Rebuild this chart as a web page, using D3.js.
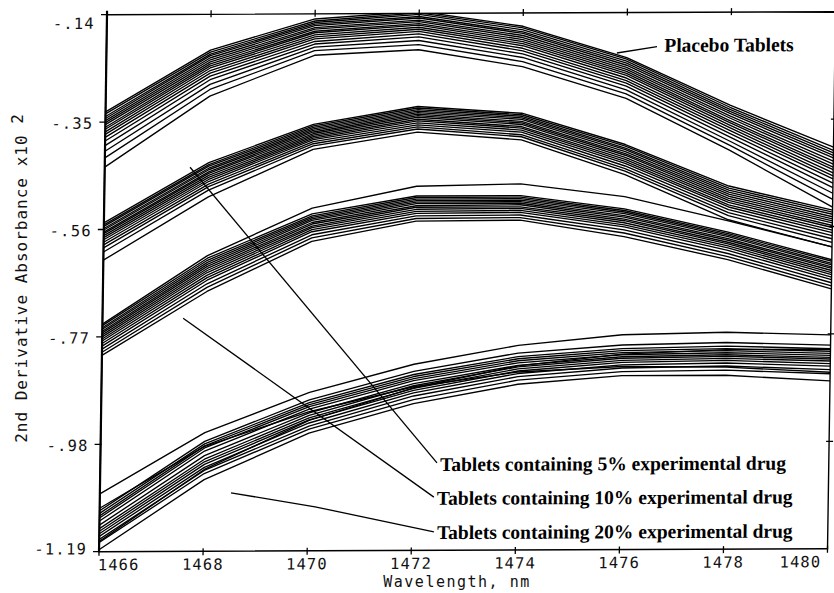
<!DOCTYPE html>
<html lang="en">
<head>
<meta charset="utf-8">
<title>2nd derivative spectra</title>
<script src="https://d3js.org/d3.v7.min.js"></script>
<style>
  body { margin: 0; background: #fff; }
  svg { display: block; background: #fff; }
  .mono { font-family: "DejaVu Sans Mono", monospace; fill: #111; }
  .note { font-family: "Liberation Serif", serif; font-weight: bold; font-size: 19.5px; fill: #000; }
</style>
</head>
<body>
<svg id="chart" width="834" height="593"></svg>
<script>
// wavelengths where each spectrum was sampled
const wavelengths = [1466, 1468, 1470, 1472, 1474, 1476, 1478, 1480];
const yTicks = [-0.14, -0.35, -0.56, -0.77, -0.98, -1.19];
const yTickLabels = ["-.14", "-.35", "-.56", "-.77", "-.98", "-1.19"];

// spectra, one row per tablet
const placebo = [
  [-0.330, -0.210, -0.150, -0.136, -0.166, -0.228, -0.322, -0.405],
  [-0.334, -0.214, -0.154, -0.139, -0.169, -0.231, -0.326, -0.411],
  [-0.339, -0.218, -0.157, -0.142, -0.173, -0.235, -0.330, -0.416],
  [-0.343, -0.221, -0.160, -0.146, -0.177, -0.239, -0.334, -0.421],
  [-0.347, -0.225, -0.163, -0.149, -0.180, -0.243, -0.338, -0.426],
  [-0.351, -0.229, -0.167, -0.153, -0.184, -0.247, -0.343, -0.432],
  [-0.355, -0.233, -0.170, -0.156, -0.188, -0.251, -0.347, -0.438],
  [-0.360, -0.237, -0.174, -0.160, -0.192, -0.255, -0.352, -0.444],
  [-0.364, -0.241, -0.177, -0.163, -0.196, -0.259, -0.356, -0.449],
  [-0.369, -0.245, -0.181, -0.167, -0.200, -0.263, -0.361, -0.455],
  [-0.374, -0.250, -0.185, -0.171, -0.204, -0.268, -0.366, -0.461],
  [-0.380, -0.255, -0.189, -0.175, -0.209, -0.273, -0.371, -0.467],
  [-0.387, -0.261, -0.194, -0.180, -0.214, -0.278, -0.377, -0.475],
  [-0.396, -0.268, -0.199, -0.186, -0.220, -0.284, -0.384, -0.484],
  [-0.407, -0.277, -0.205, -0.193, -0.227, -0.291, -0.392, -0.495],
  [-0.420, -0.287, -0.212, -0.201, -0.235, -0.299, -0.400, -0.507],
  [-0.438, -0.300, -0.221, -0.211, -0.245, -0.308, -0.410, -0.522]
];
const drug5 = [
  [-0.547, -0.430, -0.356, -0.322, -0.336, -0.398, -0.480, -0.528],
  [-0.551, -0.434, -0.359, -0.325, -0.339, -0.401, -0.484, -0.532],
  [-0.554, -0.437, -0.362, -0.328, -0.342, -0.405, -0.488, -0.536],
  [-0.558, -0.441, -0.365, -0.331, -0.345, -0.408, -0.492, -0.541],
  [-0.561, -0.444, -0.368, -0.334, -0.348, -0.412, -0.496, -0.545],
  [-0.565, -0.448, -0.371, -0.337, -0.352, -0.416, -0.500, -0.549],
  [-0.568, -0.451, -0.374, -0.340, -0.355, -0.419, -0.504, -0.553],
  [-0.572, -0.455, -0.377, -0.343, -0.358, -0.423, -0.508, -0.558],
  [-0.576, -0.459, -0.380, -0.347, -0.362, -0.427, -0.512, -0.562],
  [-0.580, -0.463, -0.383, -0.350, -0.365, -0.431, -0.517, -0.567],
  [-0.585, -0.467, -0.386, -0.354, -0.369, -0.435, -0.521, -0.572],
  [-0.590, -0.472, -0.390, -0.358, -0.373, -0.440, -0.526, -0.578],
  [-0.596, -0.477, -0.394, -0.362, -0.378, -0.445, -0.532, -0.584],
  [-0.604, -0.484, -0.398, -0.366, -0.382, -0.450, -0.538, -0.591],
  [-0.620, -0.497, -0.405, -0.372, -0.388, -0.457, -0.546, -0.600]
];
const drug10 = [
  [-0.745, -0.612, -0.520, -0.478, -0.474, -0.500, -0.548, -0.600],
  [-0.748, -0.617, -0.531, -0.497, -0.497, -0.524, -0.570, -0.625],
  [-0.752, -0.621, -0.535, -0.500, -0.500, -0.527, -0.573, -0.628],
  [-0.755, -0.625, -0.538, -0.503, -0.503, -0.530, -0.576, -0.632],
  [-0.759, -0.629, -0.541, -0.506, -0.506, -0.533, -0.579, -0.635],
  [-0.762, -0.633, -0.544, -0.509, -0.509, -0.537, -0.583, -0.639],
  [-0.766, -0.637, -0.548, -0.512, -0.512, -0.540, -0.586, -0.642],
  [-0.770, -0.641, -0.551, -0.516, -0.515, -0.544, -0.590, -0.646],
  [-0.774, -0.645, -0.555, -0.519, -0.519, -0.547, -0.593, -0.650],
  [-0.778, -0.650, -0.558, -0.523, -0.522, -0.551, -0.597, -0.654],
  [-0.783, -0.655, -0.562, -0.527, -0.526, -0.555, -0.601, -0.659],
  [-0.788, -0.660, -0.566, -0.531, -0.530, -0.559, -0.606, -0.664],
  [-0.794, -0.667, -0.572, -0.536, -0.535, -0.565, -0.612, -0.670],
  [-0.800, -0.674, -0.578, -0.541, -0.540, -0.571, -0.618, -0.676],
  [-0.806, -0.682, -0.585, -0.546, -0.545, -0.578, -0.624, -0.682]
];
const drug20 = [
  [-1.077, -0.958, -0.880, -0.826, -0.790, -0.770, -0.766, -0.772],
  [-1.110, -0.975, -0.895, -0.840, -0.805, -0.790, -0.786, -0.792],
  [-1.115, -0.980, -0.900, -0.846, -0.812, -0.797, -0.793, -0.799],
  [-1.120, -0.984, -0.904, -0.850, -0.816, -0.801, -0.798, -0.804],
  [-1.124, -0.988, -0.908, -0.854, -0.820, -0.805, -0.802, -0.808],
  [-1.130, -0.994, -0.913, -0.858, -0.824, -0.809, -0.806, -0.812],
  [-1.138, -1.003, -0.920, -0.864, -0.829, -0.813, -0.810, -0.816],
  [-1.145, -1.010, -0.925, -0.868, -0.832, -0.816, -0.813, -0.819],
  [-1.150, -1.015, -0.930, -0.873, -0.836, -0.820, -0.817, -0.823],
  [-1.155, -1.020, -0.934, -0.877, -0.840, -0.824, -0.821, -0.828],
  [-1.160, -1.026, -0.940, -0.882, -0.845, -0.829, -0.826, -0.833],
  [-1.166, -1.032, -0.946, -0.888, -0.851, -0.835, -0.832, -0.840],
  [-1.172, -1.038, -0.952, -0.895, -0.858, -0.842, -0.840, -0.848],
  [-1.186, -1.050, -0.960, -0.903, -0.866, -0.850, -0.850, -0.862],
  [-1.170, -1.030, -0.935, -0.872, -0.830, -0.808, -0.800, -0.800],
  [-1.105, -0.985, -0.918, -0.870, -0.842, -0.832, -0.834, -0.845]
];

// labels with their leader lines, in data units
const notes = [
  {text: "Placebo Tablets", leader: [[1475.81, -0.219], [1476.58, -0.207]], at: [1476.72, -0.217]},
  {text: "Tablets containing 5% experimental drug", leader: [[1467.64, -0.439], [1472.47, -1.019]], at: [1472.53, -1.035]},
  {text: "Tablets containing 10% experimental drug", leader: [[1467.55, -0.734], [1472.42, -1.086]], at: [1472.48, -1.101]},
  {text: "Tablets containing 20% experimental drug", leader: [[1468.52, -1.076], [1470.14, -1.104], [1472.43, -1.154]], at: [1472.49, -1.168]}
];

const W = 728.5, H = 537;
const svg = d3.select("#chart");

// the scanned plot is slightly sheared, so the whole frame gets a matrix
const g = svg.append("g")
  .attr("transform", "matrix(1,-0.00412,-0.01487,1,107,14.7)");

const x = d3.scaleLinear().domain([1466, 1480]).range([0, W]);
const y = d3.scaleLinear().domain([-1.19, -0.14]).range([H, 0]);

g.append("clipPath").attr("id", "clip")
  .append("rect").attr("width", W).attr("height", H);

const line = d3.line()
  .x((d, i) => x(wavelengths[i]))
  .y(d => y(d));

const allSpectra = [].concat(placebo, drug5, drug10, drug20);
g.append("g")
  .attr("clip-path", "url(#clip)")
  .attr("fill", "none")
  .attr("stroke", "#000")
  .attr("stroke-width", 1.35)
  .attr("stroke-linejoin", "round")
  .selectAll("path")
  .data(allSpectra)
  .join("path")
  .attr("d", line);

// frame
g.append("rect")
  .attr("width", W).attr("height", H)
  .attr("fill", "none").attr("stroke", "#000").attr("stroke-width", 1.4);
g.append("line")
  .attr("x1", 0).attr("x2", 0).attr("y1", -4).attr("y2", H)
  .attr("stroke", "#000").attr("stroke-width", 2.2);

// ticks on all four sides
const tk = g.append("g").attr("stroke", "#000").attr("stroke-width", 1.3);
tk.selectAll(".bt").data(wavelengths).join("line")
  .attr("x1", d => x(d)).attr("x2", d => x(d))
  .attr("y1", H - 3).attr("y2", H + 4);
tk.selectAll(".tt").data(wavelengths.slice(1, -1)).join("line")
  .attr("x1", d => x(d)).attr("x2", d => x(d))
  .attr("y1", -4).attr("y2", 3);
tk.selectAll(".lt").data(yTicks).join("line")
  .attr("x1", -6).attr("x2", 1)
  .attr("y1", d => y(d)).attr("y2", d => y(d));
tk.selectAll(".rt").data(yTicks.slice(1, -1)).join("line")
  .attr("x1", W - 3).attr("x2", W + 4)
  .attr("y1", d => y(d)).attr("y2", d => y(d));

// tick labels
g.append("g").selectAll("text")
  .data(wavelengths)
  .join("text")
  .attr("class", "mono")
  .attr("font-size", 15.5)
  .attr("letter-spacing", 1.1)
  .attr("x", (d, i) => x(d) + (i === 0 ? -1 : i === wavelengths.length - 1 ? -6 : 0))
  .attr("y", H + 18.5)
  .attr("text-anchor", (d, i) => i === 0 ? "start" : i === wavelengths.length - 1 ? "end" : "middle")
  .text(d => d);

g.append("g").selectAll("text")
  .data(yTicks)
  .join("text")
  .attr("class", "mono")
  .attr("font-size", 15.5)
  .attr("letter-spacing", 1.2)
  .attr("x", -12)
  .attr("y", (d, i) => y(d) + (i === 0 ? 8.5 : i === yTicks.length - 1 ? -3 : 1))
  .attr("dy", "0.36em")
  .attr("text-anchor", "end")
  .text((d, i) => yTickLabels[i]);

// axis titles
svg.append("text")
  .attr("class", "mono")
  .attr("font-size", 15)
  .attr("letter-spacing", 1.5)
  .attr("x", 457).attr("y", 587)
  .attr("text-anchor", "middle")
  .text("Wavelength, nm");

const yt = svg.append("text")
  .attr("class", "mono")
  .attr("font-size", 16)
  .attr("letter-spacing", 1)
  .attr("text-anchor", "middle")
  .attr("transform", "translate(27,278) rotate(-90)");
yt.append("tspan").text("2nd Derivative Absorbance x10 ");
yt.append("tspan").attr("dy", -4).text("2");

// annotations
const ann = g.append("g");
ann.selectAll("path")
  .data(notes)
  .join("path")
  .attr("fill", "none").attr("stroke", "#000").attr("stroke-width", 1.3)
  .attr("d", d => d3.line().x(p => x(p[0])).y(p => y(p[1]))(d.leader));
ann.selectAll("text")
  .data(notes)
  .join("text")
  .attr("class", "note")
  .attr("x", d => x(d.at[0]))
  .attr("y", d => y(d.at[1]))
  .text(d => d.text);
</script>
</body>
</html>
